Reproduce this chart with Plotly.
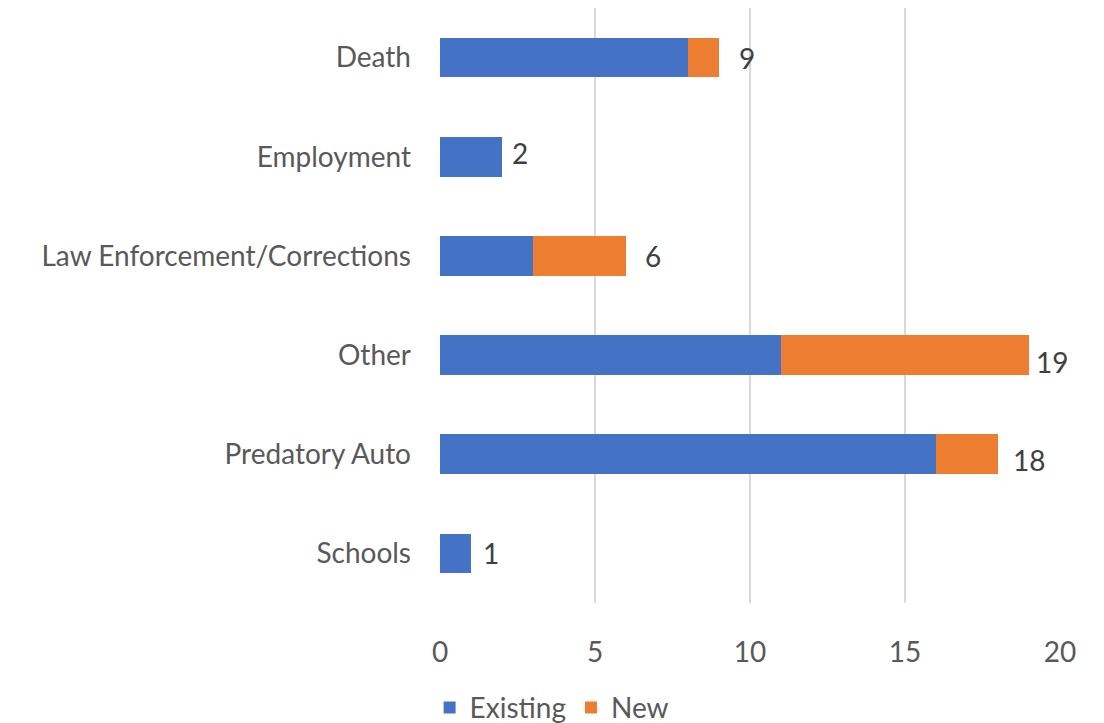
import plotly.graph_objects as go

categories = ["Death", "Employment", "Law Enforcement/Corrections", "Other", "Predatory Auto", "Schools"]
existing = [8, 2, 3, 11, 16, 1]
new = [1, 0, 3, 8, 2, 0]
totals = [e + n for e, n in zip(existing, new)]
x_ticks = [0, 5, 10, 15, 20]

# label placement tweaks (pixels) mimicking the original layout
label_dx = [18, 8, 17, 5, 13, 10]
label_dy = [0, 4, 0, -7, -6, 0]

font_family = "Lato, Open Sans, sans-serif"

fig = go.Figure()
fig.add_trace(go.Bar(y=categories, x=existing, name="Existing", orientation="h",
                     marker=dict(color="#4472C4", line=dict(width=0)), width=0.4))
fig.add_trace(go.Bar(y=categories, x=new, name="New", orientation="h",
                     marker=dict(color="#ED7D31", line=dict(width=0)), width=0.4))

for c, t, dx, dy in zip(categories, totals, label_dx, label_dy):
    fig.add_annotation(x=t, y=c, text=str(t), showarrow=False, xanchor="left",
                       xshift=dx, yshift=dy,
                       font=dict(size=28, color="#404040", family=font_family))

fig.update_layout(
    barmode="stack",
    width=1104, height=723,
    margin=dict(l=432, r=52, t=0, b=128, autoexpand=False),
    plot_bgcolor="white", paper_bgcolor="white",
    font=dict(family=font_family, size=28, color="#595959"),
    bargap=0.6,
    showlegend=True,
    legend=dict(orientation="h", x=0.18, xanchor="center", y=-0.176, yanchor="middle",
                font=dict(size=28, color="#595959"), traceorder="normal"),
    xaxis=dict(range=[0, 20], tickvals=x_ticks, showgrid=True, gridcolor="#d9d9d9",
               gridwidth=2, zeroline=False, showline=False, ticks="",
               ticklabelstandoff=30, tickfont=dict(size=28, color="#595959")),
    yaxis=dict(categoryorder="array", categoryarray=categories, autorange="reversed",
               showgrid=False, zeroline=False, showline=False, ticks="",
               ticklabelstandoff=28, tickfont=dict(size=28, color="#595959")),
)

fig.write_html("out.html")
